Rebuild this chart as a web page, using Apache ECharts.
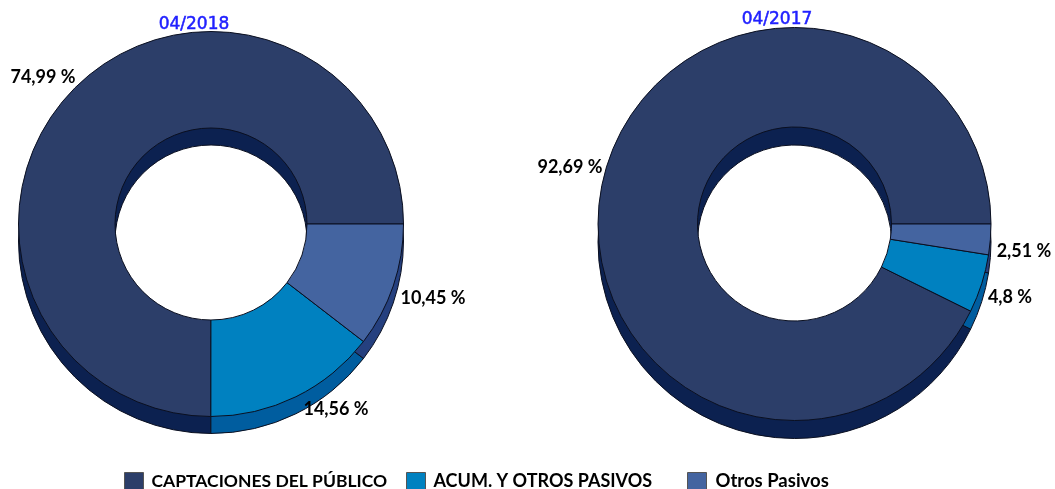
<!DOCTYPE html>
<html>
<head>
<meta charset="utf-8" />
<title>Pasivos</title>
<script src="https://cdn.jsdelivr.net/npm/echarts@6/dist/echarts.min.js"></script>
<style>
  html, body { margin: 0; padding: 0; background: #fff; }
  #chart { width: 1055px; height: 489px; }
</style>
</head>
<body>
<div id="chart"></div>
<script>
// datos
const categories = ["CAPTACIONES DEL PÚBLICO", "ACUM. Y OTROS PASIVOS", "Otros Pasivos"];
const titles = ["04/2018", "04/2017"];
const values2018 = [74.99, 14.56, 10.45];
const values2017 = [92.69, 4.8, 2.51];

const topColors = ["#2c3e69", "#0081c0", "#4464a0"];
const sideColors = ["#0c2150", "#005d9f", "#25407f"];

// centro de cada etiqueta, por categoria
const labels2018 = [[43, 77], [336, 409], [433, 298]];
const labels2017 = [[570, 167], [1010, 297], [1024, 251]];

const FONT = "Lato, sans-serif";
const BORDER = "#0a0f20";

function toData(values, colors) {
  return values.map((v, i) => ({
    name: categories[i],
    value: v,
    itemStyle: { color: colors[i] },
  }));
}

// la cara superior lleva las etiquetas
function topPie(values, center, radius, labelPos) {
  return {
    type: "pie",
    z: 3,
    silent: true,
    startAngle: 0,
    clockwise: false,
    animation: false,
    center: center,
    radius: radius,
    data: toData(values, topColors),
    itemStyle: { borderColor: BORDER, borderWidth: 1 },
    label: {
      show: true,
      position: "outside",
      color: "#000",
      fontFamily: FONT,
      fontWeight: "bold",
      fontSize: 18,
      overflow: "none",
      width: 90,
      formatter: (p) => String(p.value).replace(".", ",") + " %",
    },
    labelLine: { show: false },
    labelLayout: (p) => ({
      x: labelPos[p.dataIndex][0],
      y: labelPos[p.dataIndex][1],
      align: "center",
      verticalAlign: "middle",
    }),
  };
}

// el mismo anillo desplazado hacia abajo hace de canto
function sidePie(values, center, radius, depth) {
  return {
    type: "pie",
    z: 2,
    silent: true,
    startAngle: 0,
    clockwise: false,
    animation: false,
    center: [center[0], center[1] + depth],
    radius: radius,
    data: toData(values, sideColors),
    itemStyle: { borderColor: BORDER, borderWidth: 1 },
    label: { show: false },
    labelLine: { show: false },
  };
}

function legendItem(index, left, textGap, fontSize) {
  return {
    left: left,
    top: 467,
    itemWidth: 19,
    itemHeight: 18,
    icon: "rect",
    selectedMode: false,
    data: [
      {
        name: categories[index],
        itemStyle: { color: topColors[index], borderColor: "#555", borderWidth: 1 },
      },
    ],
    textStyle: { color: "#000", fontFamily: FONT, fontWeight: "bold", fontSize: fontSize, padding: [0, 0, 0, textGap] },
  };
}

function titleItem(text, left, top) {
  return {
    text: text,
    left: left,
    top: top,
    textAlign: "center",
    textStyle: {
      color: "#2020ff",
      fontFamily: "DejaVu Sans",
      fontWeight: "normal",
      fontSize: 17,
      textBorderColor: "#2020ff",
      textBorderWidth: 0.5,
    },
  };
}

const chart = echarts.init(document.getElementById("chart"), null, { renderer: "canvas" });
chart.setOption({
  backgroundColor: "#fff",
  animation: false,
  title: [titleItem(titles[0], 189, 11), titleItem(titles[1], 772, 6)],
  legend: [legendItem(0, 119, 3, 17.5), legendItem(1, 401, 3, 18), legendItem(2, 682, 4, 18.5)],
  series: [
    topPie(values2018, [211, 224], [96, 192.5], labels2018),
    sidePie(values2018, [211, 224], [96, 192.5], 17),
    topPie(values2017, [794.5, 224], [97, 196.5], labels2017),
    sidePie(values2017, [794.5, 224], [97, 196.5], 18),
  ],
});
</script>
</body>
</html>
